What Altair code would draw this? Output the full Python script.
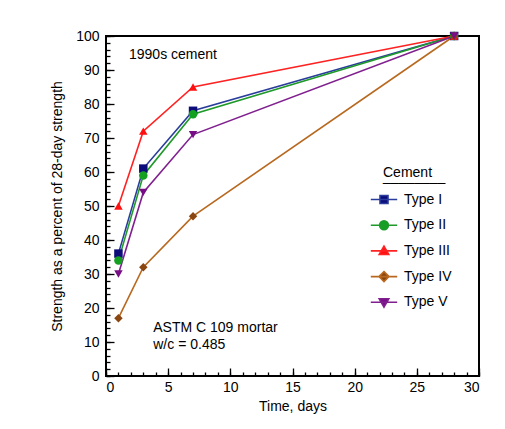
import altair as alt
import pandas as pd

# ---- data ----
cements = ["Type I", "Type II", "Type III", "Type IV", "Type V"]
days = [1, 3, 7, 28]
type_i = [36, 61, 78, 100]
type_ii = [34, 59, 77, 100]
type_iii = [50, 72, 85, 100]
type_iv = [17, 32, 47, 100]
type_v = [30, 54, 71, 100]

line_colors = ["#2a3d9c", "#1f9a2a", "#ff2222", "#b8691f", "#80208f"]
marker_colors = ["#0c0c7a", "#14a021", "#ff1010", "#8a4610", "#770e86"]
marker_shapes = ["square", "circle", "triangle-up", "diamond", "triangle-down"]
legend_shapes = [
    "M-3.3,0H3.3M-1,-1H1V1H-1Z",
    "M-3.3,0H3.3M1.1,0A1.1,1.1,0,1,1,-1.1,0A1.1,1.1,0,1,1,1.1,0Z",
    "M-3.3,0H3.3M0,-1.2L1.2,0.9H-1.2Z",
    "M-3.3,0H3.3M0,-1.25L1.25,0L0,1.25L-1.25,0Z",
    "M-3.3,0H3.3M0,1.2L1.2,-0.9H-1.2Z",
]

x_major = [0, 5, 10, 15, 20, 25, 30]
x_minor = list(range(0, 31))
y_major = [0, 10, 20, 30, 40, 50, 60, 70, 80, 90, 100]
y_minor = list(range(0, 101, 2))

notes_text = ["1990s cement", "ASTM C 109 mortar", "w/c = 0.485"]
notes_x = [1.85, 3.8, 3.8]
notes_y = [94.4, 14.1, 9.1]

FONT = "Liberation Sans"

series = [type_i, type_ii, type_iii, type_iv, type_v]
rows = []
for name, vals in zip(cements, series):
    for d, v in zip(days, vals):
        rows.append({"Cement": name, "Time": d, "Strength": v})
df = pd.DataFrame(rows)
notes = pd.DataFrame({"text": notes_text, "x": notes_x, "y": notes_y})

xscale = alt.Scale(domain=[0, 30], nice=False, zero=False)
yscale = alt.Scale(domain=[0, 100], nice=False, zero=False)

main_x = alt.Axis(orient="bottom", title="Time, days", values=x_major, format="d",
                  ticks=False, tickSize=0, domain=False, grid=False,
                  labelFont=FONT, labelFontSize=14, labelColor="black", labelPadding=4,
                  titleFont=FONT, titleFontSize=14, titleFontWeight="normal",
                  titleColor="black", titlePadding=5)
main_y = alt.Axis(orient="left", title="Strength as a percent of 28-day strength",
                  values=y_major, format="d",
                  ticks=False, tickSize=0, domain=False, grid=False,
                  labelFont=FONT, labelFontSize=14, labelColor="black", labelPadding=7,
                  titleFont=FONT, titleFontSize=14, titleFontWeight="normal",
                  titleColor="black", titlePadding=11)
major_x = alt.Axis(orient="bottom", values=x_major, labels=False, domain=False, grid=False,
                   title=None, tickSize=8, offset=-8, tickColor="black", tickWidth=1.3)
minor_x = alt.Axis(orient="bottom", values=x_minor, labels=False, domain=False, grid=False,
                   title=None, tickSize=4, offset=-4, tickColor="black", tickWidth=1.3)
major_y = alt.Axis(orient="left", values=y_major, labels=False, domain=False, grid=False,
                   title=None, tickSize=8, offset=-8, tickColor="black", tickWidth=1.3)
minor_y = alt.Axis(orient="left", values=y_minor, labels=False, domain=False, grid=False,
                   title=None, tickSize=4, offset=-4, tickColor="black", tickWidth=1.3)

base = alt.Chart(df)

lines = base.mark_line(strokeWidth=1.6).encode(
    x=alt.X("Time:Q", scale=xscale, axis=main_x),
    y=alt.Y("Strength:Q", scale=yscale, axis=main_y),
    color=alt.Color("Cement:N", scale=alt.Scale(domain=cements, range=line_colors), legend=None),
    detail="Cement:N",
)

points = base.mark_point(filled=True, size=72, opacity=1).encode(
    x=alt.X("Time:Q", scale=xscale, axis=major_x),
    y=alt.Y("Strength:Q", scale=yscale, axis=major_y),
    color=alt.Color("Cement:N", scale=alt.Scale(domain=cements, range=marker_colors), legend=None),
    shape=alt.Shape("Cement:N", scale=alt.Scale(domain=cements, range=marker_shapes), legend=None),
)

leg = alt.Legend(title=["Cement", "________"], orient="none", legendX=277, legendY=130,
                 padding=0, titleFont=FONT, titleFontSize=14, titleFontWeight="normal",
                 titleColor="black", titleLineHeight=3.5, titlePadding=9,
                 labelFont=FONT, labelFontSize=14, labelColor="black",
                 symbolSize=64, symbolStrokeWidth=1.6, symbolOffset=-6, labelOffset=13,
                 symbolOpacity=1, rowPadding=9.7)

legend_layer = base.mark_point(filled=True, strokeWidth=1.6, opacity=1).encode(
    x=alt.X("Time:Q", scale=xscale, axis=minor_x),
    y=alt.Y("Strength:Q", scale=yscale, axis=minor_y),
    fill=alt.Fill("Cement:N", scale=alt.Scale(domain=cements, range=marker_colors), legend=leg),
    stroke=alt.Stroke("Cement:N", scale=alt.Scale(domain=cements, range=line_colors), legend=leg),
    shape=alt.Shape("Cement:N", scale=alt.Scale(domain=cements, range=legend_shapes), legend=leg),
).transform_filter("false")

text = alt.Chart(notes).mark_text(align="left", baseline="middle", font=FONT,
                                  fontSize=14, color="black").encode(
    x=alt.X("x:Q", scale=xscale, axis=None),
    y=alt.Y("y:Q", scale=yscale, axis=None),
    text="text:N",
)

chart = alt.layer(lines, points, legend_layer, text).resolve_scale(
    color="independent", shape="independent", fill="independent", stroke="independent"
).resolve_axis(x="independent", y="independent").properties(
    width=373, height=340,
    autosize=alt.AutoSizeParams(type="none"),
    padding={"left": 98, "top": 28, "right": 10, "bottom": 45},
    background="white",
).configure_view(stroke="black", strokeWidth=2)

chart.save("out.html", embed_options={"renderer": "svg", "actions": False})
